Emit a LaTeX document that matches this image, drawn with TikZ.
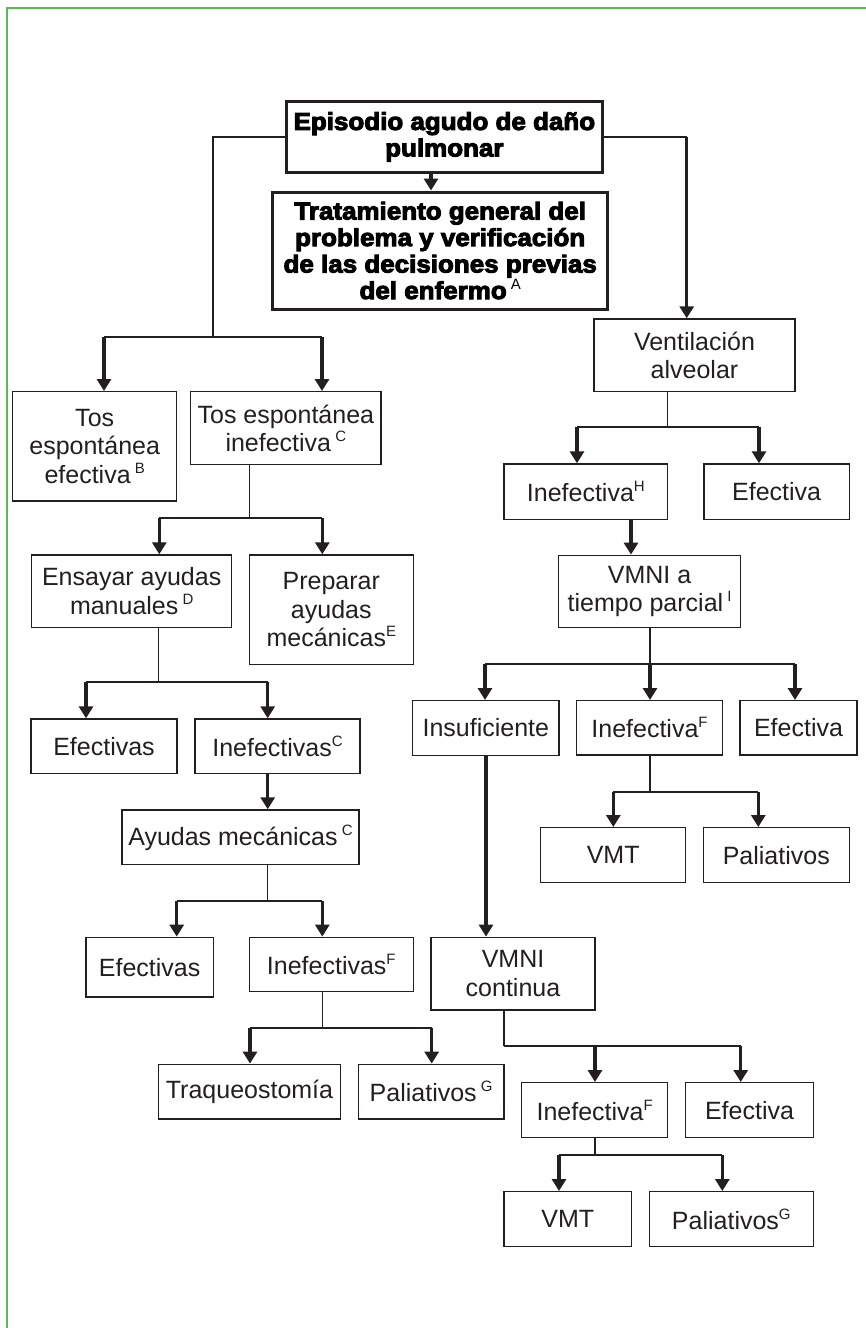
\documentclass[tikz,border=0pt]{standalone}
\usepackage{fontspec}
\setmainfont{Liberation Sans}
\newfontfamily\heavyfont[FakeBold=4,FakeStretch=1.06]{Liberation Sans Bold}
\usetikzlibrary{arrows.meta}
\definecolor{ink}{RGB}{35,31,32}
\definecolor{frame}{RGB}{90,185,80}
\newcommand\sps[1]{\raisebox{10pt}{\fontsize{15}{15}\selectfont\normalfont #1}}
\newcommand\mkbox[7]{\node[#1, minimum width={#5-#3}, minimum height={#6-#4}] (#2) at ({(#3+#5)/2},{(#4+#6)/2}) {#7};}
\tikzset{
  bx/.style={draw=ink, line width=1.4pt, inner sep=0pt, align=center, text=ink,
    font=\fontsize{25}{28.5}\selectfont},
  bigbx/.style={draw=ink, line width=3pt, inner sep=0pt, align=center, text=black,
    font=\heavyfont\fontsize{24.5}{26.5}\selectfont},
  ln/.style={draw=ink, line width=1.5pt},
  barln/.style={draw=ink, line width=1.8pt},
  arr/.style={draw=ink, line width=3.3pt, -{Triangle[length=12pt,width=14pt]}},
  framel/.style={draw=frame, line width=1.6pt}
}
\begin{document}
\begin{tikzpicture}[x=1pt,y=-1pt]
\useasboundingbox (0,0) rectangle (865,1328);
\draw[framel] (7,1330) -- (7,8) -- (867,8);

% top
\mkbox{bigbx}{title}{286.7}{101.7}{602}{172}{Episodio agudo de daño\\pulmonar}
\mkbox{bigbx}{trat}{272.7}{192}{607.7}{309}{Tratamiento general del\\problema y verificación\\de las decisiones previas\\del enfermo\,\sps{A}}

% left branch
\mkbox{bx}{tosef}{12.7}{391.7}{176.7}{501}{Tos\\espontánea\\efectiva\,\sps{B}}
\mkbox{bx}{tosin}{190.7}{391.7}{381}{464.7}{Tos espontánea\\inefectiva\,\sps{C}}
\mkbox{bx}{ensayar}{31.7}{555}{231.7}{627.3}{Ensayar ayudas\\manuales\,\sps{D}}
\mkbox{bx}{preparar}{249.3}{555}{413.3}{664.3}{Preparar\\ayudas\\mecánicas\sps{E}}
\mkbox{bx}{efs1}{31}{719}{177}{773.7}{Efectivas}
\mkbox{bx}{inefs1}{195}{719}{360}{773.7}{Inefectivas\sps{C}}
\mkbox{bx}{ayudas}{122}{810}{359}{864.7}{Ayudas mecánicas\,\sps{C}}
\mkbox{bx}{efs2}{86}{937.3}{213.3}{997}{Efectivas}
\mkbox{bx}{inefs2}{249.3}{937.3}{413.3}{991.7}{Inefectivas\sps{F}}
\mkbox{bx}{traq}{158.3}{1064.3}{340.7}{1119}{Traqueostomía}
\mkbox{bx}{pal1}{358.3}{1064.3}{504}{1119}{Paliativos\,\sps{G}}

% right branch
\mkbox{bx}{vent}{594}{319}{795}{391.7}{Ventilación\\alveolar}
\mkbox{bx}{inefH}{504}{464}{667.7}{519.3}{Inefectiva\sps{H}}
\mkbox{bx}{ef1}{704}{464}{849.3}{519.3}{Efectiva}
\mkbox{bx}{vmnia}{558.5}{555.3}{740.7}{627.7}{VMNI a\\tiempo parcial\,\sps{I}}
\mkbox{bx}{insuf}{412.7}{700.7}{559}{755.3}{Insuficiente}
\mkbox{bx}{inefF1}{576.7}{700.7}{722.3}{755}{Inefectiva\sps{F}}
\mkbox{bx}{ef2}{740}{700.7}{857}{755}{Efectiva}
\mkbox{bx}{vmt1}{540.7}{827.7}{685.7}{882.7}{VMT}
\mkbox{bx}{pal2}{703.3}{827.7}{849.3}{882.7}{Paliativos}
\mkbox{bx}{vmnic}{431}{937.3}{595}{1010}{VMNI\\continua}
\mkbox{bx}{inefF2}{521.7}{1082.7}{667.7}{1137.7}{Inefectiva\sps{F}}
\mkbox{bx}{ef3}{685.7}{1082.7}{813.3}{1137.7}{Efectiva}
\mkbox{bx}{vmt2}{504}{1191.7}{631.7}{1246.7}{VMT}
\mkbox{bx}{pal3}{649.3}{1191.7}{813.3}{1246.7}{Paliativos\sps{G}}

% ---- connectors ----
\coordinate (a0) at (431,0);
\draw[arr] (title.south -| a0) -- (trat.north -| a0);

% left from title
\coordinate (L) at (213,337);
\coordinate (b1l) at (104,337);
\coordinate (b1r) at (322,337);
\draw[ln] (title.west) -| (L);
\draw[barln] (b1l) -- (b1r);
\draw[arr] (b1l) -- (b1l |- tosef.north);
\draw[arr] (b1r) -- (b1r |- tosin.north);

% right from title
\coordinate (R) at (686.7,0);
\draw[ln] (title.east) -- (title.east -| R);
\draw[arr] (title.east -| R) -- (R |- vent.north);

% tosin
\coordinate (s2) at (249.3,518.3);
\coordinate (b2l) at (159.3,518.3);
\coordinate (b2r) at (322.3,518.3);
\draw[ln] (tosin.south -| s2) -- (s2);
\draw[barln] (b2l) -- (b2r);
\draw[arr] (b2l) -- (b2l |- ensayar.north);
\draw[arr] (b2r) -- (b2r |- preparar.north);

% ensayar
\coordinate (s3) at (158.7,682);
\coordinate (b3l) at (86,682);
\coordinate (b3r) at (267.7,682);
\draw[ln] (ensayar.south -| s3) -- (s3);
\draw[barln] (b3l) -- (b3r);
\draw[arr] (b3l) -- (b3l |- efs1.north);
\draw[arr] (b3r) -- (b3r |- inefs1.north);

% inefs1 -> ayudas
\draw[arr] (inefs1.south -| b3r) -- (ayudas.north -| b3r);

% ayudas
\coordinate (s4) at (267.7,900.7);
\coordinate (b4l) at (176.7,900.7);
\coordinate (b4r) at (322.3,900.7);
\draw[ln] (ayudas.south -| s4) -- (s4);
\draw[barln] (b4l) -- (b4r);
\draw[arr] (b4l) -- (b4l |- efs2.north);
\draw[arr] (b4r) -- (b4r |- inefs2.north);

% inefs2
\coordinate (s5) at (322.3,1027.7);
\coordinate (b5l) at (250,1027.7);
\coordinate (b5r) at (431.7,1027.7);
\draw[ln] (inefs2.south -| s5) -- (s5);
\draw[barln] (b5l) -- (b5r);
\draw[arr] (b5l) -- (b5l |- traq.north);
\draw[arr] (b5r) -- (b5r |- pal1.north);

% vent
\coordinate (s6) at (667.7,427.3);
\coordinate (b6l) at (577,427.3);
\coordinate (b6r) at (759,427.3);
\draw[ln] (vent.south -| s6) -- (s6);
\draw[barln] (b6l) -- (b6r);
\draw[arr] (b6l) -- (b6l |- inefH.north);
\draw[arr] (b6r) -- (b6r |- ef1.north);

% inefH -> vmnia
\coordinate (c7) at (631,0);
\draw[arr] (inefH.south -| c7) -- (vmnia.north -| c7);

% vmnia
\coordinate (s8) at (650,664);
\coordinate (b8l) at (485,664);
\coordinate (b8r) at (795,664);
\draw[ln] (vmnia.south -| s8) -- (s8);
\draw[barln] (b8l) -- (b8r);
\draw[arr] (b8l) -- (b8l |- insuf.north);
\draw[arr] (s8) -- (s8 |- inefF1.north);
\draw[arr] (b8r) -- (b8r |- ef2.north);

% inefF1
\coordinate (s9) at (650,791.7);
\coordinate (b9l) at (613.3,791.7);
\coordinate (b9r) at (758.3,791.7);
\draw[ln] (inefF1.south -| s9) -- (s9);
\draw[barln] (b9l) -- (b9r);
\draw[arr] (b9l) -- (b9l |- vmt1.north);
\draw[arr] (b9r) -- (b9r |- pal2.north);

% insuf -> vmnic
\coordinate (c10) at (486,0);
\draw[arr] (insuf.south -| c10) -- (vmnic.north -| c10);

% vmnic
\coordinate (s11) at (504,1046);
\coordinate (b11m) at (595,1046);
\coordinate (b11r) at (740.7,1046);
\draw[ln] (vmnic.south -| s11) -- (s11);
\draw[barln] (s11) -- (b11r);
\draw[arr] (b11m) -- (b11m |- inefF2.north);
\draw[arr] (b11r) -- (b11r |- ef3.north);

% inefF2
\coordinate (s12) at (595,1155.3);
\coordinate (b12l) at (559,1155.3);
\coordinate (b12r) at (722.3,1155.3);
\draw[ln] (inefF2.south -| s12) -- (s12);
\draw[barln] (b12l) -- (b12r);
\draw[arr] (b12l) -- (b12l |- vmt2.north);
\draw[arr] (b12r) -- (b12r |- pal3.north);
\end{tikzpicture}
\end{document}
